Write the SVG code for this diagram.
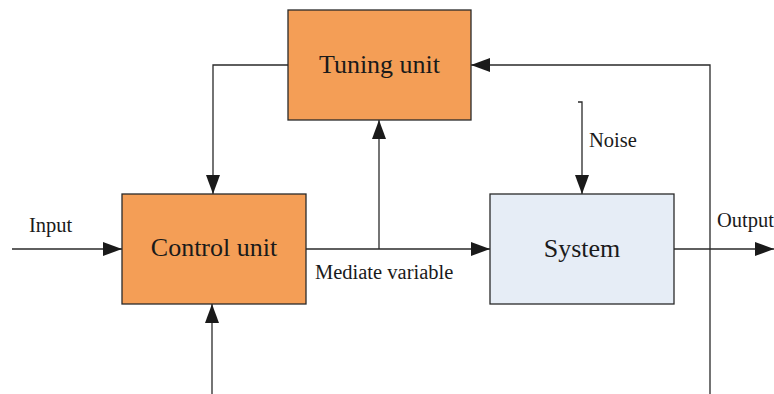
<svg xmlns="http://www.w3.org/2000/svg" width="774" height="394" viewBox="0 0 774 394">
  <style>
    .box { stroke: #2a2a2a; stroke-width: 1.3; }
    .orange { fill: #F49E56; }
    .blue { fill: #E6EDF6; }
    .big { font-family: "Liberation Serif", "Times New Roman", serif; font-size: 26px; fill: #1a1a1a; }
    .small { font-family: "Liberation Serif", "Times New Roman", serif; font-size: 20.5px; fill: #1a1a1a; }
    .wire { fill: none; stroke: #2a2a2a; stroke-width: 1.3; }
  </style>
  <defs>
    <marker id="arrow" markerUnits="userSpaceOnUse" markerWidth="20" markerHeight="16" refX="19" refY="7" orient="auto">
      <path d="M0,0 L19,7 L0,14 Z" fill="#1a1a1a"/>
    </marker>
  </defs>

  <g id="connectors">
    <!-- tuning unit -> control unit -->
    <path class="wire" d="M288,65 H213 V194" marker-end="url(#arrow)"/>
    <!-- input -->
    <path class="wire" d="M12,249 H122" marker-end="url(#arrow)"/>
    <!-- mediate variable -> system -->
    <path class="wire" d="M306,249 H490" marker-end="url(#arrow)"/>
    <!-- branch up to tuning unit -->
    <path class="wire" d="M379,249 V120" marker-end="url(#arrow)"/>
    <!-- output -->
    <path class="wire" d="M674,249 H774" marker-end="url(#arrow)"/>
    <!-- output feedback to tuning unit -->
    <path class="wire" d="M710,394 V65 H471" marker-end="url(#arrow)"/>
    <!-- noise -->
    <path class="wire" d="M578,102 H582 V194" marker-end="url(#arrow)"/>
    <!-- bottom input to control unit -->
    <path class="wire" d="M212,394 V304" marker-end="url(#arrow)"/>
  </g>

  <g id="tuning-unit">
    <rect class="box orange" x="288" y="10" width="183" height="110"/>
    <text class="big" x="379.5" y="73" text-anchor="middle">Tuning unit</text>
  </g>

  <g id="control-unit">
    <rect class="box orange" x="122" y="194" width="184" height="110"/>
    <text class="big" x="214" y="256" text-anchor="middle">Control unit</text>
  </g>

  <g id="system">
    <rect class="box blue" x="490" y="194" width="184" height="110"/>
    <text class="big" x="582" y="256.5" text-anchor="middle">System</text>
  </g>

  <g id="labels">
    <text class="small" x="29" y="231.5">Input</text>
    <text class="small" x="315" y="279">Mediate variable</text>
    <text class="small" x="717" y="226.5">Output</text>
    <text class="small" x="589" y="146.5">Noise</text>
  </g>
</svg>
